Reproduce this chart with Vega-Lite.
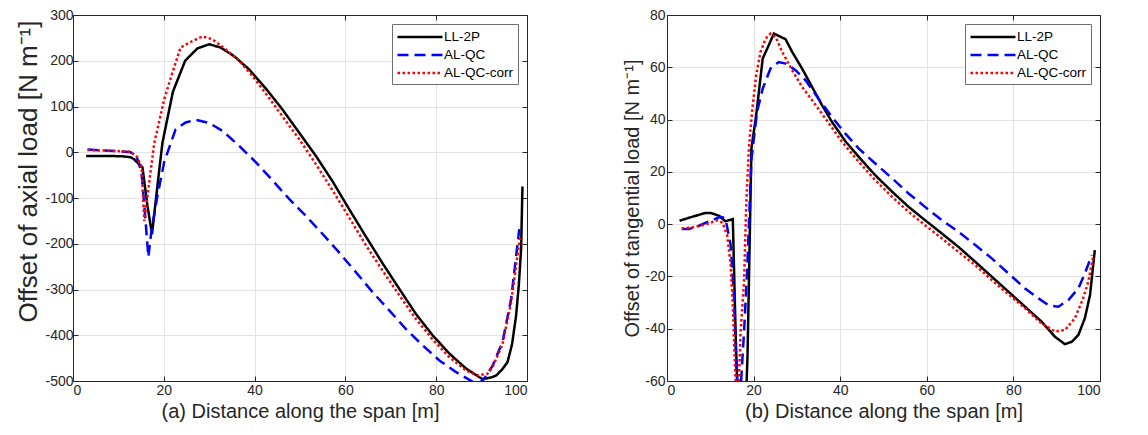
{
  "$schema": "https://vega.github.io/schema/vega-lite/v6.json",
  "background": "white",
  "padding": {"left": 15, "top": 8, "right": 5, "bottom": 5},
  "spacing": 94,
  "resolve": {"scale": {"color": "independent", "strokeDash": "independent"}, "legend": {"color": "independent", "strokeDash": "independent"}},
  "config": {
    "font": "Liberation Sans",
    "view": {"stroke": null},
    "axis": {
      "labelFont": "Liberation Sans", "labelFontSize": 14, "labelColor": "#262626",
      "titleFont": "Liberation Sans", "titleFontSize": 20, "titleFontWeight": "normal", "titleColor": "#262626",
      "domainColor": "#262626", "domainWidth": 1, "tickColor": "#262626", "tickSize": -5, "tickWidth": 1,
      "gridColor": "#e3e3e3", "gridWidth": 1, "labelPadding": 5, "titlePadding": 4
    },
    "axisBottom": {"labelPadding": 7, "titlePadding": 4},
    "legend": {
      "orient": "top-right", "offset": 9, "title": null,
      "symbolType": "M-1,0L5,0", "symbolSize": 225, "symbolStrokeWidth": 2.5,
      "labelFont": "Liberation Sans", "labelFontSize": 13.5, "labelColor": "#000000",
      "strokeColor": "#6e6e6e", "fillColor": "#ffffff", "padding": 4, "cornerRadius": 0,
      "rowPadding": 2, "symbolOffset": 0, "labelOffset": 30
    }
  },
  "datasets": {
    "axial": [
      {"x": 2.9, "y": -8, "s": "LL-2P"}, {"x": 5, "y": -8, "s": "LL-2P"}, {"x": 8, "y": -8, "s": "LL-2P"}, {"x": 11, "y": -9, "s": "LL-2P"}, {"x": 12.7, "y": -11, "s": "LL-2P"}, {"x": 13.4, "y": -15, "s": "LL-2P"}, {"x": 15.3, "y": -33, "s": "LL-2P"}, {"x": 16.4, "y": -117, "s": "LL-2P"}, {"x": 17.4, "y": -179, "s": "LL-2P"}, {"x": 18.6, "y": -73, "s": "LL-2P"}, {"x": 19.7, "y": 21, "s": "LL-2P"}, {"x": 22, "y": 132, "s": "LL-2P"}, {"x": 24.7, "y": 200, "s": "LL-2P"}, {"x": 27.4, "y": 227, "s": "LL-2P"}, {"x": 30, "y": 236, "s": "LL-2P"}, {"x": 32.5, "y": 229, "s": "LL-2P"}, {"x": 35.5, "y": 210, "s": "LL-2P"}, {"x": 38.8, "y": 181, "s": "LL-2P"}, {"x": 42.5, "y": 139, "s": "LL-2P"}, {"x": 46.1, "y": 94, "s": "LL-2P"}, {"x": 49.8, "y": 43, "s": "LL-2P"}, {"x": 53.5, "y": -8, "s": "LL-2P"}, {"x": 57.2, "y": -64, "s": "LL-2P"}, {"x": 60.8, "y": -124, "s": "LL-2P"}, {"x": 64.5, "y": -184, "s": "LL-2P"}, {"x": 68.2, "y": -243, "s": "LL-2P"}, {"x": 71.9, "y": -299, "s": "LL-2P"}, {"x": 75.5, "y": -353, "s": "LL-2P"}, {"x": 79.2, "y": -400, "s": "LL-2P"}, {"x": 82.9, "y": -440, "s": "LL-2P"}, {"x": 86.6, "y": -473, "s": "LL-2P"}, {"x": 90.2, "y": -496, "s": "LL-2P"}, {"x": 92.2, "y": -492, "s": "LL-2P"}, {"x": 93.2, "y": -488, "s": "LL-2P"}, {"x": 94.5, "y": -475, "s": "LL-2P"}, {"x": 95.7, "y": -459, "s": "LL-2P"}, {"x": 96.7, "y": -420, "s": "LL-2P"}, {"x": 97.6, "y": -357, "s": "LL-2P"}, {"x": 98.2, "y": -290, "s": "LL-2P"}, {"x": 98.7, "y": -211, "s": "LL-2P"}, {"x": 99.0, "y": -75, "s": "LL-2P"},
      {"x": 3.2, "y": 6, "s": "AL-QC"}, {"x": 6, "y": 4, "s": "AL-QC"}, {"x": 9, "y": 3, "s": "AL-QC"}, {"x": 12.7, "y": 0, "s": "AL-QC"}, {"x": 14.2, "y": -15, "s": "AL-QC"}, {"x": 15.1, "y": -44, "s": "AL-QC"}, {"x": 15.9, "y": -140, "s": "AL-QC"}, {"x": 16.6, "y": -229, "s": "AL-QC"}, {"x": 17.3, "y": -170, "s": "AL-QC"}, {"x": 18.6, "y": -95, "s": "AL-QC"}, {"x": 20.1, "y": -21, "s": "AL-QC"}, {"x": 22.6, "y": 50, "s": "AL-QC"}, {"x": 24.8, "y": 65, "s": "AL-QC"}, {"x": 27, "y": 71, "s": "AL-QC"}, {"x": 30, "y": 64, "s": "AL-QC"}, {"x": 32.9, "y": 47, "s": "AL-QC"}, {"x": 36.6, "y": 14, "s": "AL-QC"}, {"x": 40.3, "y": -22, "s": "AL-QC"}, {"x": 44, "y": -62, "s": "AL-QC"}, {"x": 47.6, "y": -102, "s": "AL-QC"}, {"x": 51.3, "y": -139, "s": "AL-QC"}, {"x": 55, "y": -179, "s": "AL-QC"}, {"x": 58.6, "y": -219, "s": "AL-QC"}, {"x": 62.3, "y": -262, "s": "AL-QC"}, {"x": 66, "y": -306, "s": "AL-QC"}, {"x": 69.7, "y": -346, "s": "AL-QC"}, {"x": 73.3, "y": -386, "s": "AL-QC"}, {"x": 77, "y": -422, "s": "AL-QC"}, {"x": 80.7, "y": -455, "s": "AL-QC"}, {"x": 84.3, "y": -480, "s": "AL-QC"}, {"x": 87.6, "y": -499, "s": "AL-QC"}, {"x": 89, "y": -508, "s": "AL-QC"}, {"x": 90.5, "y": -496, "s": "AL-QC"}, {"x": 92.4, "y": -467, "s": "AL-QC"}, {"x": 94.6, "y": -415, "s": "AL-QC"}, {"x": 96.5, "y": -321, "s": "AL-QC"}, {"x": 98.3, "y": -168, "s": "AL-QC"},
      {"x": 3.2, "y": 5, "s": "AL-QC-corr"}, {"x": 6, "y": 4, "s": "AL-QC-corr"}, {"x": 9, "y": 3, "s": "AL-QC-corr"}, {"x": 12.7, "y": 1, "s": "AL-QC-corr"}, {"x": 14.2, "y": -11, "s": "AL-QC-corr"}, {"x": 15.1, "y": -33, "s": "AL-QC-corr"}, {"x": 15.7, "y": -150, "s": "AL-QC-corr"}, {"x": 17.9, "y": 20, "s": "AL-QC-corr"}, {"x": 20.1, "y": 116, "s": "AL-QC-corr"}, {"x": 21.9, "y": 174, "s": "AL-QC-corr"}, {"x": 23.7, "y": 229, "s": "AL-QC-corr"}, {"x": 26.3, "y": 243, "s": "AL-QC-corr"}, {"x": 28.5, "y": 253, "s": "AL-QC-corr"}, {"x": 30.7, "y": 247, "s": "AL-QC-corr"}, {"x": 33.6, "y": 225, "s": "AL-QC-corr"}, {"x": 36.6, "y": 200, "s": "AL-QC-corr"}, {"x": 39.5, "y": 167, "s": "AL-QC-corr"}, {"x": 42.5, "y": 128, "s": "AL-QC-corr"}, {"x": 46.1, "y": 79, "s": "AL-QC-corr"}, {"x": 49.8, "y": 29, "s": "AL-QC-corr"}, {"x": 53.5, "y": -26, "s": "AL-QC-corr"}, {"x": 57.2, "y": -84, "s": "AL-QC-corr"}, {"x": 60.8, "y": -142, "s": "AL-QC-corr"}, {"x": 64.5, "y": -203, "s": "AL-QC-corr"}, {"x": 68.2, "y": -259, "s": "AL-QC-corr"}, {"x": 71.9, "y": -313, "s": "AL-QC-corr"}, {"x": 75.5, "y": -364, "s": "AL-QC-corr"}, {"x": 79.2, "y": -409, "s": "AL-QC-corr"}, {"x": 82.9, "y": -448, "s": "AL-QC-corr"}, {"x": 86.6, "y": -477, "s": "AL-QC-corr"}, {"x": 89.1, "y": -488, "s": "AL-QC-corr"}, {"x": 91.3, "y": -484, "s": "AL-QC-corr"}, {"x": 92.4, "y": -470, "s": "AL-QC-corr"}, {"x": 94.6, "y": -420, "s": "AL-QC-corr"}, {"x": 96.5, "y": -328, "s": "AL-QC-corr"}, {"x": 98.5, "y": -182, "s": "AL-QC-corr"}
    ],
    "tang": [
      {"x": 2.9, "y": 1.3, "s": "LL-2P"}, {"x": 5.8, "y": 2.8, "s": "LL-2P"}, {"x": 8.9, "y": 4.3, "s": "LL-2P"}, {"x": 10.1, "y": 4.3, "s": "LL-2P"}, {"x": 12, "y": 3.2, "s": "LL-2P"}, {"x": 13.5, "y": 1.1, "s": "LL-2P"}, {"x": 15.2, "y": 1.9, "s": "LL-2P"}, {"x": 15.9, "y": -45, "s": "LL-2P"}, {"x": 17.3, "y": -115, "s": "LL-2P"}, {"x": 18.6, "y": -50, "s": "LL-2P"}, {"x": 19.5, "y": 29, "s": "LL-2P"}, {"x": 20.6, "y": 41.7, "s": "LL-2P"}, {"x": 22.1, "y": 63.3, "s": "LL-2P"}, {"x": 24.7, "y": 72.9, "s": "LL-2P"}, {"x": 27.4, "y": 70.7, "s": "LL-2P"}, {"x": 28.9, "y": 65.9, "s": "LL-2P"}, {"x": 31.2, "y": 59.5, "s": "LL-2P"}, {"x": 33.5, "y": 52.5, "s": "LL-2P"}, {"x": 35.8, "y": 45.5, "s": "LL-2P"}, {"x": 38.1, "y": 39.1, "s": "LL-2P"}, {"x": 41.2, "y": 31.7, "s": "LL-2P"}, {"x": 44.3, "y": 25.7, "s": "LL-2P"}, {"x": 48.1, "y": 18.7, "s": "LL-2P"}, {"x": 52, "y": 12.4, "s": "LL-2P"}, {"x": 55.8, "y": 6.6, "s": "LL-2P"}, {"x": 59.6, "y": 1.5, "s": "LL-2P"}, {"x": 63.5, "y": -3.6, "s": "LL-2P"}, {"x": 67.3, "y": -8.7, "s": "LL-2P"}, {"x": 71.2, "y": -14.4, "s": "LL-2P"}, {"x": 75, "y": -20.1, "s": "LL-2P"}, {"x": 78.9, "y": -25.9, "s": "LL-2P"}, {"x": 82.7, "y": -31.6, "s": "LL-2P"}, {"x": 86.5, "y": -37.3, "s": "LL-2P"}, {"x": 89.6, "y": -43.1, "s": "LL-2P"}, {"x": 91.9, "y": -45.9, "s": "LL-2P"}, {"x": 93.5, "y": -45, "s": "LL-2P"}, {"x": 95, "y": -42.4, "s": "LL-2P"}, {"x": 96.5, "y": -36, "s": "LL-2P"}, {"x": 97.7, "y": -27.1, "s": "LL-2P"}, {"x": 98.8, "y": -9.9, "s": "LL-2P"},
      {"x": 3.4, "y": -1.9, "s": "AL-QC"}, {"x": 5.1, "y": -1.9, "s": "AL-QC"}, {"x": 7.4, "y": -0.6, "s": "AL-QC"}, {"x": 9.7, "y": 1.1, "s": "AL-QC"}, {"x": 12.4, "y": 2.8, "s": "AL-QC"}, {"x": 13.5, "y": 2.2, "s": "AL-QC"}, {"x": 14.7, "y": -8, "s": "AL-QC"}, {"x": 15.5, "y": -28.4, "s": "AL-QC"}, {"x": 16.0, "y": -54, "s": "AL-QC"}, {"x": 16.7, "y": -72, "s": "AL-QC"}, {"x": 17.4, "y": -52, "s": "AL-QC"}, {"x": 17.8, "y": -41, "s": "AL-QC"}, {"x": 18.5, "y": -18, "s": "AL-QC"}, {"x": 19.5, "y": 25, "s": "AL-QC"}, {"x": 20.8, "y": 43, "s": "AL-QC"}, {"x": 22.1, "y": 51.8, "s": "AL-QC"}, {"x": 23.9, "y": 59.5, "s": "AL-QC"}, {"x": 25.8, "y": 62, "s": "AL-QC"}, {"x": 27.4, "y": 61.4, "s": "AL-QC"}, {"x": 29.7, "y": 58.9, "s": "AL-QC"}, {"x": 32, "y": 55, "s": "AL-QC"}, {"x": 35, "y": 48, "s": "AL-QC"}, {"x": 38.1, "y": 41, "s": "AL-QC"}, {"x": 41.2, "y": 34.6, "s": "AL-QC"}, {"x": 44.3, "y": 28.9, "s": "AL-QC"}, {"x": 48.1, "y": 23.2, "s": "AL-QC"}, {"x": 52, "y": 17.5, "s": "AL-QC"}, {"x": 55.8, "y": 11.7, "s": "AL-QC"}, {"x": 59.6, "y": 6.6, "s": "AL-QC"}, {"x": 63.5, "y": 1.5, "s": "AL-QC"}, {"x": 67.3, "y": -2.9, "s": "AL-QC"}, {"x": 71.2, "y": -8, "s": "AL-QC"}, {"x": 75, "y": -13.1, "s": "AL-QC"}, {"x": 78.9, "y": -18.9, "s": "AL-QC"}, {"x": 82.7, "y": -24.6, "s": "AL-QC"}, {"x": 85.8, "y": -28.4, "s": "AL-QC"}, {"x": 88.1, "y": -31, "s": "AL-QC"}, {"x": 90.4, "y": -31.6, "s": "AL-QC"}, {"x": 92.7, "y": -29, "s": "AL-QC"}, {"x": 95, "y": -24.6, "s": "AL-QC"}, {"x": 96.5, "y": -18.9, "s": "AL-QC"}, {"x": 98.1, "y": -11.8, "s": "AL-QC"},
      {"x": 3.4, "y": -1.7, "s": "AL-QC-corr"}, {"x": 5.8, "y": -1.3, "s": "AL-QC-corr"}, {"x": 8.1, "y": -0.4, "s": "AL-QC-corr"}, {"x": 9.7, "y": 0.3, "s": "AL-QC-corr"}, {"x": 11.6, "y": 1.5, "s": "AL-QC-corr"}, {"x": 12.8, "y": 0.6, "s": "AL-QC-corr"}, {"x": 13.9, "y": -4.2, "s": "AL-QC-corr"}, {"x": 14.7, "y": -15.7, "s": "AL-QC-corr"}, {"x": 15.2, "y": -31, "s": "AL-QC-corr"}, {"x": 15.7, "y": -54, "s": "AL-QC-corr"}, {"x": 16.3, "y": -75, "s": "AL-QC-corr"}, {"x": 17.0, "y": -41, "s": "AL-QC-corr"}, {"x": 17.8, "y": -22, "s": "AL-QC-corr"}, {"x": 18.3, "y": 7.3, "s": "AL-QC-corr"}, {"x": 18.9, "y": 29, "s": "AL-QC-corr"}, {"x": 19.7, "y": 44, "s": "AL-QC-corr"}, {"x": 20.6, "y": 57, "s": "AL-QC-corr"}, {"x": 21.6, "y": 65.9, "s": "AL-QC-corr"}, {"x": 22.8, "y": 71, "s": "AL-QC-corr"}, {"x": 23.9, "y": 72.9, "s": "AL-QC-corr"}, {"x": 25.1, "y": 71.6, "s": "AL-QC-corr"}, {"x": 26.6, "y": 65.9, "s": "AL-QC-corr"}, {"x": 28.9, "y": 58.9, "s": "AL-QC-corr"}, {"x": 31.2, "y": 52.5, "s": "AL-QC-corr"}, {"x": 33.5, "y": 47.4, "s": "AL-QC-corr"}, {"x": 36.6, "y": 40.4, "s": "AL-QC-corr"}, {"x": 40.4, "y": 31.5, "s": "AL-QC-corr"}, {"x": 44.3, "y": 23.8, "s": "AL-QC-corr"}, {"x": 48.1, "y": 16.8, "s": "AL-QC-corr"}, {"x": 52, "y": 10.4, "s": "AL-QC-corr"}, {"x": 55.8, "y": 4.7, "s": "AL-QC-corr"}, {"x": 59.6, "y": -0.4, "s": "AL-QC-corr"}, {"x": 63.5, "y": -5.5, "s": "AL-QC-corr"}, {"x": 67.3, "y": -10.6, "s": "AL-QC-corr"}, {"x": 71.2, "y": -15.7, "s": "AL-QC-corr"}, {"x": 75, "y": -21.4, "s": "AL-QC-corr"}, {"x": 78.9, "y": -26.9, "s": "AL-QC-corr"}, {"x": 82.7, "y": -32.2, "s": "AL-QC-corr"}, {"x": 86.5, "y": -38, "s": "AL-QC-corr"}, {"x": 89.6, "y": -41.1, "s": "AL-QC-corr"}, {"x": 91.9, "y": -40.5, "s": "AL-QC-corr"}, {"x": 94.2, "y": -36, "s": "AL-QC-corr"}, {"x": 96.1, "y": -28.4, "s": "AL-QC-corr"}, {"x": 97.3, "y": -22, "s": "AL-QC-corr"}, {"x": 98.5, "y": -11.8, "s": "AL-QC-corr"}
    ]
  },
  "hconcat": [
    {
      "width": 454, "height": 366,
      "data": {"name": "axial"},
      "layer": [
        {
          "mark": {"type": "line", "clip": true, "strokeWidth": 2.5},
          "encoding": {
            "x": {"field": "x", "type": "quantitative", "scale": {"domain": [0, 100], "nice": false},
                  "axis": {"values": [0, 20, 40, 60, 80, 100], "title": "(a) Distance along the span [m]", "grid": true, "labelExpr": "'' + datum.value"}},
            "y": {"field": "y", "type": "quantitative", "scale": {"domain": [-500, 300], "nice": false},
                  "axis": {"values": [-500, -400, -300, -200, -100, 0, 100, 200, 300], "title": "Offset of axial load [N m⁻¹]", "titleFontSize": 26, "titlePadding": 3, "titleY": 156, "grid": true, "labelExpr": "'' + datum.value"}},
            "color": {"field": "s", "type": "nominal", "scale": {"domain": ["LL-2P", "AL-QC", "AL-QC-corr"], "range": ["#000000", "#0000ff", "#ff0000"]}, "legend": {"title": null, "orient": "top-right", "offset": 9}},
            "strokeDash": {"field": "s", "type": "nominal", "scale": {"domain": ["LL-2P", "AL-QC", "AL-QC-corr"], "range": [[1, 0], [11, 6], [2.5, 2.5]]}, "legend": {"title": null, "orient": "top-right", "offset": 9}}
          }
        },
        {
          "mark": {"type": "point", "opacity": 0},
          "encoding": {
            "x": {"field": "x", "type": "quantitative", "axis": {"orient": "top", "values": [0, 20, 40, 60, 80, 100], "labels": false, "title": null, "grid": false}},
            "y": {"field": "y", "type": "quantitative", "axis": {"orient": "right", "values": [-500, -400, -300, -200, -100, 0, 100, 200, 300], "labels": false, "title": null, "grid": false}}
          }
        }
      ],
      "resolve": {"axis": {"x": "independent", "y": "independent"}}
    },
    {
      "width": 433, "height": 366,
      "data": {"name": "tang"},
      "layer": [
        {
          "mark": {"type": "line", "clip": true, "strokeWidth": 2.5},
          "encoding": {
            "x": {"field": "x", "type": "quantitative", "scale": {"domain": [0, 100], "nice": false},
                  "axis": {"values": [0, 20, 40, 60, 80, 100], "title": "(b) Distance along the span [m]", "grid": true, "labelExpr": "'' + datum.value"}},
            "y": {"field": "y", "type": "quantitative", "scale": {"domain": [-60, 80], "nice": false},
                  "axis": {"values": [-60, -40, -20, 0, 20, 40, 60, 80], "title": "Offset of tangential load [N m⁻¹]", "titleFontSize": 20, "titlePadding": 2, "labelPadding": 7, "grid": true, "labelExpr": "'' + datum.value"}},
            "color": {"field": "s", "type": "nominal", "scale": {"domain": ["LL-2P", "AL-QC", "AL-QC-corr"], "range": ["#000000", "#0000ff", "#ff0000"]}, "legend": {"title": null, "orient": "top-right", "offset": 9}},
            "strokeDash": {"field": "s", "type": "nominal", "scale": {"domain": ["LL-2P", "AL-QC", "AL-QC-corr"], "range": [[1, 0], [11, 6], [2.5, 2.5]]}, "legend": {"title": null, "orient": "top-right", "offset": 9}}
          }
        },
        {
          "mark": {"type": "point", "opacity": 0},
          "encoding": {
            "x": {"field": "x", "type": "quantitative", "axis": {"orient": "top", "values": [0, 20, 40, 60, 80, 100], "labels": false, "title": null, "grid": false}},
            "y": {"field": "y", "type": "quantitative", "axis": {"orient": "right", "values": [-60, -40, -20, 0, 20, 40, 60, 80], "labels": false, "title": null, "grid": false}}
          }
        }
      ],
      "resolve": {"axis": {"x": "independent", "y": "independent"}}
    }
  ]
}
